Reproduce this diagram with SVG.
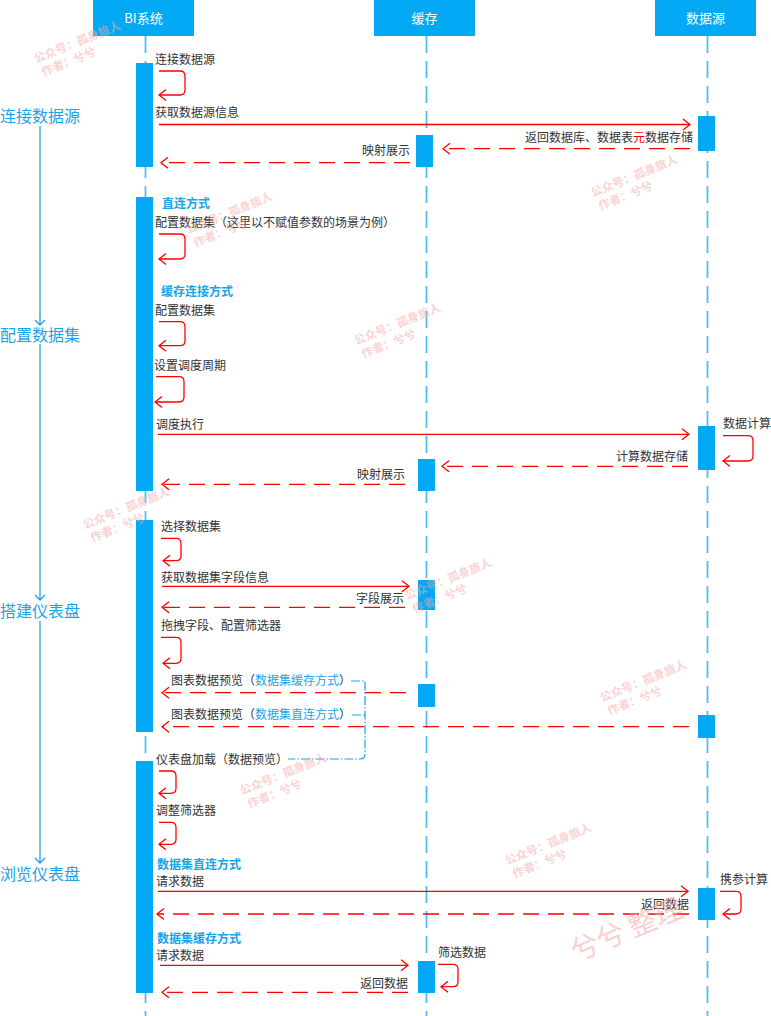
<svg xmlns="http://www.w3.org/2000/svg" width="771" height="1016" viewBox="0 0 771 1016">
<defs>
<marker id="ah" markerUnits="userSpaceOnUse" markerWidth="14" markerHeight="14" refX="8" refY="6" orient="auto" overflow="visible">
<path d="M1,0.5 L8,6 L1,11.5" fill="none" stroke="#ff0000" stroke-width="1.3" stroke-dasharray="none"/>
</marker>
</defs>
<style>
.hdr{fill:#03a9f4}
.hdrt{font-family:"Noto Sans CJK SC","Noto Sans",sans-serif;font-size:13px;fill:#ffffff;text-anchor:middle}
.life{stroke:#4dbff2;stroke-width:1.8;stroke-dasharray:17 8;fill:none}
.bar{fill:#03a9f4}
.t{font-family:"Noto Sans CJK SC","Noto Sans",sans-serif;font-size:12px;fill:#333333}
.e{text-anchor:end}
.b{fill:#1aa3e8}
.bb{font-weight:bold;fill:#1aa3e8}
.red{fill:#ff0000}
.ph{font-family:"Noto Sans CJK SC","Noto Sans",sans-serif;font-size:16px;fill:#1aa3e8}
.phl{stroke:#1aa3e8;stroke-width:1.3;fill:none}
.sol{stroke:#ff0000;stroke-width:1.3;fill:none;marker-end:url(#ah)}
.dsh{stroke:#ff0000;stroke-width:1.3;fill:none;stroke-dasharray:16 9;marker-end:url(#ah)}
.brk{stroke:#1aa3e8;stroke-width:1.2;fill:none;stroke-dasharray:9 2 1.5 2}
.wm{font-family:"Noto Sans CJK SC","Noto Sans",sans-serif;font-size:11.5px;font-weight:bold;fill:#f7a8a8;opacity:0.5}
.wmb{font-family:"Noto Sans CJK SC","Noto Sans",sans-serif;font-size:28px;fill:#f7a8a8;opacity:0.55}
</style>
<rect width="771" height="1016" fill="#ffffff"/>

<g id="phases">
<text class="ph" x="0" y="122">连接数据源</text>
<text class="ph" x="0" y="341">配置数据集</text>
<text class="ph" x="0" y="617">搭建仪表盘</text>
<text class="ph" x="0" y="880">浏览仪表盘</text>
<path class="phl" d="M40,126 V325 M35,320 L40,325 L45,320"/>
<path class="phl" d="M40,344 V600 M35,595 L40,600 L45,595"/>
<path class="phl" d="M40,621 V863 M35,858 L40,863 L45,858"/>
</g>

<g id="node-bi">
<line class="life" x1="145.5" y1="36" x2="145.5" y2="1016"/>
<rect class="hdr" x="93" y="0" width="101" height="36"/>
<text class="hdrt" x="143.5" y="22.5">BI系统</text>
<rect class="bar" x="136" y="63" width="17" height="104"/>
<rect class="bar" x="136" y="197" width="17" height="294"/>
<rect class="bar" x="136" y="520" width="17" height="212"/>
<rect class="bar" x="136" y="761" width="17" height="232"/>
</g>

<g id="node-cache">
<line class="life" x1="426.5" y1="36" x2="426.5" y2="1016"/>
<rect class="hdr" x="374" y="0" width="101" height="36"/>
<text class="hdrt" x="424.5" y="22.5">缓存</text>
<rect class="bar" x="416" y="135" width="17" height="32"/>
<rect class="bar" x="418" y="459" width="17" height="32"/>
<rect class="bar" x="418" y="580" width="17" height="30"/>
<rect class="bar" x="418" y="684" width="17" height="23"/>
<rect class="bar" x="418" y="961" width="17" height="32"/>
</g>

<g id="node-datasource">
<line class="life" x1="707.5" y1="36" x2="707.5" y2="1016"/>
<rect class="hdr" x="655" y="0" width="101" height="36"/>
<text class="hdrt" x="705.5" y="22.5">数据源</text>
<rect class="bar" x="698" y="116" width="17" height="35"/>
<rect class="bar" x="698" y="426" width="17" height="44"/>
<rect class="bar" x="698" y="715" width="17" height="23"/>
<rect class="bar" x="698" y="888" width="17" height="32"/>
</g>

<g id="connectors">
<path class="sol" d="M159,71 H180 Q185,71 185,76 V90 Q185,95 180,95 H159"/>
<path class="sol" d="M159,124.5 H690"/>
<path class="dsh" d="M690,148.7 H443"/>
<path class="dsh" d="M410,162.7 H161"/>
<path class="sol" d="M159,234 H180 Q185,234 185,239 V254 Q185,259 180,259 H159"/>
<path class="sol" d="M159,321.7 H180 Q185,321.7 185,326.7 V340.7 Q185,345.7 180,345.7 H159"/>
<path class="sol" d="M156,376.7 H179 Q184,376.7 184,381.7 V397 Q184,402 179,402 H155"/>
<path class="sol" d="M158,434.3 H689"/>
<path class="sol" d="M723,435.7 H748 Q753,435.7 753,440.7 V456 Q753,461 748,461 H723"/>
<path class="dsh" d="M688,466.3 H442"/>
<path class="dsh" d="M405,484.3 H162"/>
<path class="sol" d="M161,538.3 H176 Q181,538.3 181,543.3 V555.7 Q181,560.7 176,560.7 H163"/>
<path class="sol" d="M162,586.3 H409"/>
<path class="dsh" d="M405,607.3 H162"/>
<path class="sol" d="M161,637.3 H176 Q181,637.3 181,642.3 V658.3 Q181,663.3 176,663.3 H163"/>
<path class="dsh" d="M406,692.7 H162"/>
<path class="dsh" d="M689,726.7 H162"/>
<path class="brk" d="M351,681 H365 V754 Q365,759 360,759 H288"/>
<path class="brk" d="M352,715 H365"/>
<path class="sol" d="M159,771 H171 Q176,771 176,776 V788.3 Q176,793.3 171,793.3 H159"/>
<path class="sol" d="M159,822.3 H171 Q176,822.3 176,827.3 V839.3 Q176,844.3 171,844.3 H159"/>
<path class="sol" d="M158,891.3 H688"/>
<path class="sol" d="M720,891.3 H736 Q741,891.3 741,896.3 V909 Q741,914 736,914 H723"/>
<path class="dsh" d="M689,914 H157"/>
<path class="sol" d="M160,965.3 H408"/>
<path class="sol" d="M438,964.3 H453 Q458,964.3 458,969.3 V981.7 Q458,986.7 453,986.7 H441"/>
<path class="dsh" d="M408,992.3 H162"/>
</g>

<g id="labels">
<text class="t" x="155" y="64">连接数据源</text>
<text class="t" x="155" y="117">获取数据源信息</text>
<text class="t e" x="693" y="142">返回数据库、数据表<tspan class="red">元</tspan>数据存储</text>
<text class="t e" x="410" y="155">映射展示</text>
<text class="t bb" x="162" y="208">直连方式</text>
<text class="t" x="155" y="227">配置数据集（这里以不赋值参数的场景为例）</text>
<text class="t bb" x="161" y="296">缓存连接方式</text>
<text class="t" x="155" y="315">配置数据集</text>
<text class="t" x="154" y="370">设置调度周期</text>
<text class="t" x="156" y="429">调度执行</text>
<text class="t" x="723" y="428">数据计算</text>
<text class="t e" x="688" y="461">计算数据存储</text>
<text class="t e" x="405" y="479">映射展示</text>
<text class="t" x="161" y="531">选择数据集</text>
<text class="t" x="161" y="581.5">获取数据集字段信息</text>
<text class="t e" x="404" y="602.5">字段展示</text>
<text class="t" x="161" y="630">拖拽字段、配置筛选器</text>
<text class="t" x="171" y="685">图表数据预览（<tspan class="b">数据集缓存方式</tspan>）</text>
<text class="t" x="171" y="719">图表数据预览（<tspan class="b">数据集直连方式</tspan>）</text>
<text class="t" x="156" y="764">仪表盘加载（数据预览）</text>
<text class="t" x="156" y="815">调整筛选器</text>
<text class="t bb" x="157" y="869">数据集直连方式</text>
<text class="t" x="156" y="886">请求数据</text>
<text class="t" x="720" y="883.5">携参计算</text>
<text class="t e" x="689" y="909">返回数据</text>
<text class="t bb" x="157" y="942.5">数据集缓存方式</text>
<text class="t" x="156" y="960">请求数据</text>
<text class="t" x="438" y="956.5">筛选数据</text>
<text class="t e" x="408" y="987.5">返回数据</text>
</g>

<g id="watermarks">
<g transform="translate(36,63) rotate(-22)"><text class="wm" x="0" y="0">公众号：孤身旅人</text><text class="wm" x="2" y="15">作者：兮兮</text></g>
<g transform="translate(188,234) rotate(-22)"><text class="wm" x="0" y="0">公众号：孤身旅人</text><text class="wm" x="2" y="15">作者：兮兮</text></g>
<g transform="translate(593,197) rotate(-22)"><text class="wm" x="0" y="0">公众号：孤身旅人</text><text class="wm" x="2" y="15">作者：兮兮</text></g>
<g transform="translate(356,345) rotate(-22)"><text class="wm" x="0" y="0">公众号：孤身旅人</text><text class="wm" x="2" y="15">作者：兮兮</text></g>
<g transform="translate(85,529) rotate(-22)"><text class="wm" x="0" y="0">公众号：孤身旅人</text><text class="wm" x="2" y="15">作者：兮兮</text></g>
<g transform="translate(407,600) rotate(-22)"><text class="wm" x="0" y="0">公众号：孤身旅人</text><text class="wm" x="2" y="15">作者：兮兮</text></g>
<g transform="translate(602,702) rotate(-22)"><text class="wm" x="0" y="0">公众号：孤身旅人</text><text class="wm" x="2" y="15">作者：兮兮</text></g>
<g transform="translate(242,795) rotate(-22)"><text class="wm" x="0" y="0">公众号：孤身旅人</text><text class="wm" x="2" y="15">作者：兮兮</text></g>
<g transform="translate(507,865) rotate(-22)"><text class="wm" x="0" y="0">公众号：孤身旅人</text><text class="wm" x="2" y="15">作者：兮兮</text></g>
<g transform="translate(576,962) rotate(-23)"><text class="wmb" x="0" y="0">兮兮 整理</text></g>
</g>
</svg>
